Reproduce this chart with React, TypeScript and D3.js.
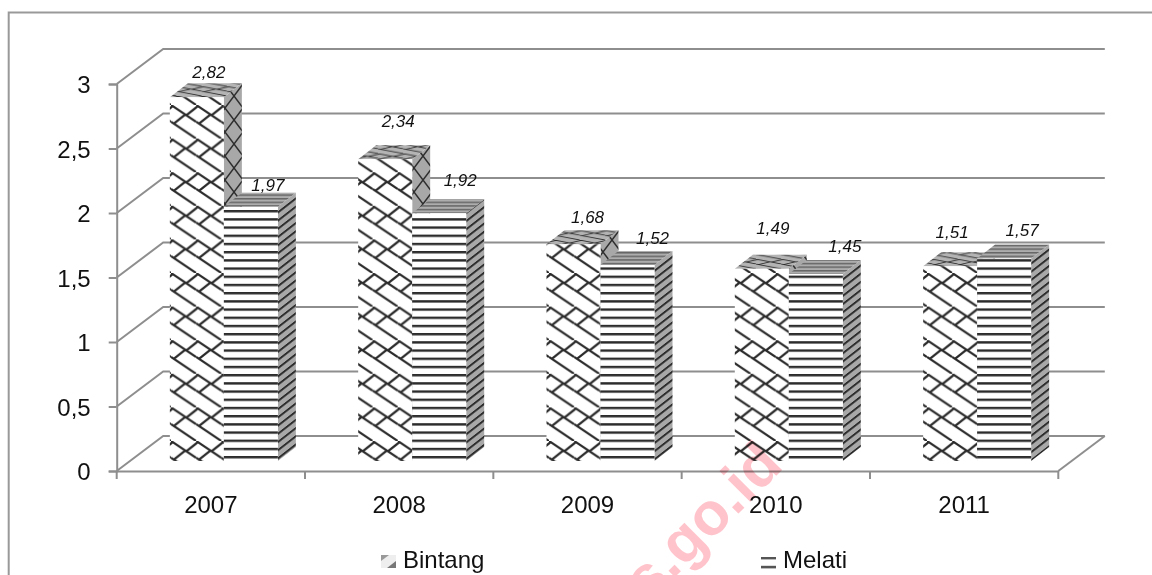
import { useRef, useEffect } from 'react';
import * as d3 from 'd3';

const years = ['2007', '2008', '2009', '2010', '2011'];
const bintang = [2.82, 2.34, 1.68, 1.49, 1.51];
const melati = [1.97, 1.92, 1.52, 1.45, 1.57];
const bintangLabels = ['2,82', '2,34', '1,68', '1,49', '1,51'];
const melatiLabels = ['1,97', '1,92', '1,52', '1,45', '1,57'];
const yTicks = [0, 0.5, 1, 1.5, 2, 2.5, 3];
const yTickLabels = ['0', '0,5', '1', '1,5', '2', '2,5', '3'];
// data labels were moved by hand in the original chart
const bintangNudge = [[12, 5], [13, 18], [14, 7], [11, 21], [2, 14]];
const melatiNudge = [[17, 2], [21, 13], [25, 7], [29, 8], [18, 8]];

const font = '"Liberation Sans", Arial, sans-serif';
const grey = '#8e8e8e';

const App = () => {
  const ref = useRef<SVGSVGElement>(null);

  useEffect(() => {
    const svg = d3.select(ref.current);
    svg.selectAll('*').remove();

    const x = d3.scaleBand().domain(years).range([116.7, 1058.3]);
    const y = d3.scaleLinear().domain([0, 3]).range([471, 84]);
    const backX = 46.5;
    const backY = -35;
    const barX = 13;
    const barY = -10;
    const depthX = 18;
    const depthY = -14;
    const barW = 54;

    const defs = svg.append('defs');
    // shingle tile: long falling lines, short rising links staggered between them
    const shingle = (id: string, bg: string, m: string, sw: number) => {
      const p = defs
        .append('pattern')
        .attr('id', id)
        .attr('patternUnits', 'userSpaceOnUse')
        .attr('width', 36)
        .attr('height', 48)
        .attr('patternTransform', m);
      p.append('rect').attr('width', 36).attr('height', 48).attr('fill', bg);
      p.append('path')
        .attr('d', 'M0,0L36,24M0,24L36,48M4,26.7L20.4,13.6M22,14.7L38.4,1.6M-14,14.7L2.4,1.6')
        .attr('stroke', '#2a2a2a')
        .attr('stroke-width', sw)
        .attr('fill', 'none');
    };
    shingle('cross-front', '#fff', 'translate(171,105) scale(0.7)', 3.2);
    shingle('cross-top', '#b4b4b4', 'scale(0.7,0.2)', 3.5);

    const side = defs
      .append('pattern')
      .attr('id', 'cross-side')
      .attr('patternUnits', 'userSpaceOnUse')
      .attr('width', 18)
      .attr('height', 24);
    side.append('rect').attr('width', 18).attr('height', 24).attr('fill', '#a8a8a8');
    side
      .append('path')
      .attr('d', 'M0,0L18,24M18,0L0,24')
      .attr('stroke', '#2e2e2e')
      .attr('stroke-width', 1.5);

    const stripes = (id: string, bg: string, fg: string, m: string, h: number, t: number) => {
      const p = defs
        .append('pattern')
        .attr('id', id)
        .attr('patternUnits', 'userSpaceOnUse')
        .attr('width', 8)
        .attr('height', h)
        .attr('patternTransform', m);
      p.append('rect').attr('width', 8).attr('height', h).attr('fill', bg);
      p.append('rect').attr('width', 8).attr('height', t).attr('fill', fg);
    };
    stripes('line-front', '#fff', '#2c2c2c', 'translate(0,456)', 8.2, 2.4);
    stripes('line-side', '#a8a8a8', '#2c2c2c', 'skewY(-38) translate(0,2)', 8.2, 2.4);
    stripes('line-top', '#adadad', '#666', 'translate(0,0)', 3.6, 1.5);

    // chart frame, the picture cuts it off on the right and at the bottom
    svg
      .append('path')
      .attr('d', 'M8.7,575V12.5H1152')
      .attr('fill', 'none')
      .attr('stroke', '#999')
      .attr('stroke-width', 2);

    // back wall grid with the slanted side lines
    const grid = svg.append('g').attr('fill', 'none').attr('stroke', grey).attr('stroke-width', 2);
    yTicks.forEach((t) => {
      grid
        .append('path')
        .attr(
          'd',
          d3.line()([
            [116.7, y(t)],
            [116.7 + backX, y(t) + backY],
            [1058.3 + backX, y(t) + backY],
          ]),
        );
    });
    grid
      .append('path')
      .attr(
        'd',
        d3.line()([
          [1058.3, y(0)],
          [1058.3 + backX, y(0) + backY],
        ]),
      );

    // axes
    const yAxis = d3
      .axisLeft(y)
      .tickValues(yTicks)
      .tickSize(8)
      .tickFormat((_, i) => yTickLabels[i]);
    const yG = svg.append('g').attr('transform', 'translate(116.7,0)').call(yAxis);
    const xAxis = d3.axisBottom(x).tickValues([]).tickSize(0);
    const xG = svg.append('g').attr('transform', 'translate(0,471)').call(xAxis);
    [yG, xG].forEach((g) => {
      g.select('.domain').attr('stroke', grey).attr('stroke-width', 2);
      g.selectAll('line').attr('stroke', grey).attr('stroke-width', 2);
      g.selectAll('text')
        .attr('font-family', font)
        .attr('font-size', 24)
        .attr('fill', '#111');
    });
    yG.selectAll('text').attr('x', -26).attr('dy', '0.36em');

    const tickPos = years.map((d) => x(d) as number).concat(1058.3);
    svg
      .append('g')
      .selectAll('line')
      .data(tickPos)
      .join('line')
      .attr('x1', (d) => d)
      .attr('x2', (d) => d)
      .attr('y1', 471)
      .attr('y2', 479)
      .attr('stroke', grey)
      .attr('stroke-width', 2);
    svg
      .append('g')
      .selectAll('text')
      .data(years)
      .join('text')
      .attr('x', (d) => (x(d) as number) + x.bandwidth() / 2)
      .attr('y', 513)
      .attr('text-anchor', 'middle')
      .attr('font-family', font)
      .attr('font-size', 24)
      .attr('fill', '#111')
      .text((d) => d);

    // bars, left series first in each pair so the right one overlaps its side
    const drawBar = (left: number, value: number, kind: string) => {
      const g = svg.append('g');
      const top = y(value) + barY;
      const bottom = y(0) + barY;
      const right = left + barW;
      const path = d3.path();
      path.moveTo(right, top);
      path.lineTo(right + depthX, top + depthY);
      path.lineTo(right + depthX, bottom + depthY);
      path.lineTo(right, bottom);
      path.closePath();
      g.append('path').attr('d', path.toString()).attr('fill', `url(#${kind}-side)`);
      const topFace = d3.path();
      topFace.moveTo(left, top);
      topFace.lineTo(left + depthX, top + depthY);
      topFace.lineTo(right + depthX, top + depthY);
      topFace.lineTo(right, top);
      topFace.closePath();
      g.append('path').attr('d', topFace.toString()).attr('fill', `url(#${kind}-top)`);
      g.append('rect')
        .attr('x', left)
        .attr('y', top)
        .attr('width', barW)
        .attr('height', bottom - top)
        .attr('fill', `url(#${kind}-front)`);
    };

    years.forEach((year, i) => {
      const center = (x(year) as number) + x.bandwidth() / 2 + barX;
      drawBar(center - barW, bintang[i], 'cross');
      drawBar(center, melati[i], 'line');
    });

    // data labels go on last, above everything
    years.forEach((year, i) => {
      const center = (x(year) as number) + x.bandwidth() / 2 + barX;
      const label = (cx: number, cy: number, t: string) =>
        svg
          .append('text')
          .attr('x', cx)
          .attr('y', cy)
          .attr('text-anchor', 'middle')
          .attr('font-family', font)
          .attr('font-style', 'italic')
          .attr('font-size', 17)
          .attr('fill', '#111')
          .text(t);
      label(
        center - barW / 2 + bintangNudge[i][0],
        y(bintang[i]) + barY + depthY - bintangNudge[i][1],
        bintangLabels[i],
      );
      label(
        center + barW / 2 + melatiNudge[i][0],
        y(melati[i]) + barY + depthY - melatiNudge[i][1],
        melatiLabels[i],
      );
    });

    // legend
    const legend = svg.append('g');
    legend.append('rect').attr('x', 381).attr('y', 555).attr('width', 15).attr('height', 13).attr('fill', '#eee');
    legend.append('path').attr('d', 'M381,555h8l-8,6z').attr('fill', '#999');
    legend.append('path').attr('d', 'M396,568h-9l9,-7z').attr('fill', '#777');
    legend.append('rect').attr('x', 761).attr('y', 557).attr('width', 15).attr('height', 2.4).attr('fill', '#555');
    legend.append('rect').attr('x', 761).attr('y', 565.8).attr('width', 15).attr('height', 2.6).attr('fill', '#555');
    [
      { tx: 403, t: 'Bintang' },
      { tx: 783, t: 'Melati' },
    ].forEach((d) =>
      legend
        .append('text')
        .attr('x', d.tx)
        .attr('y', 568)
        .attr('font-family', font)
        .attr('font-size', 24)
        .attr('fill', '#111')
        .text(d.t),
    );

    // pink watermark stamped over the finished chart
    svg
      .append('text')
      .attr('transform', 'translate(785,467) rotate(-45)')
      .attr('text-anchor', 'end')
      .attr('font-family', font)
      .attr('font-weight', 700)
      .attr('font-size', 60)
      .attr('fill', '#ffc4cb')
      .style('mix-blend-mode', 'multiply')
      .text('bps.go.id');
  }, []);

  return (
    <svg
      ref={ref}
      width={1152}
      height={575}
      style={{ position: 'absolute', left: 0, top: 0, background: '#fff' }}
    />
  );
};

export default App;
